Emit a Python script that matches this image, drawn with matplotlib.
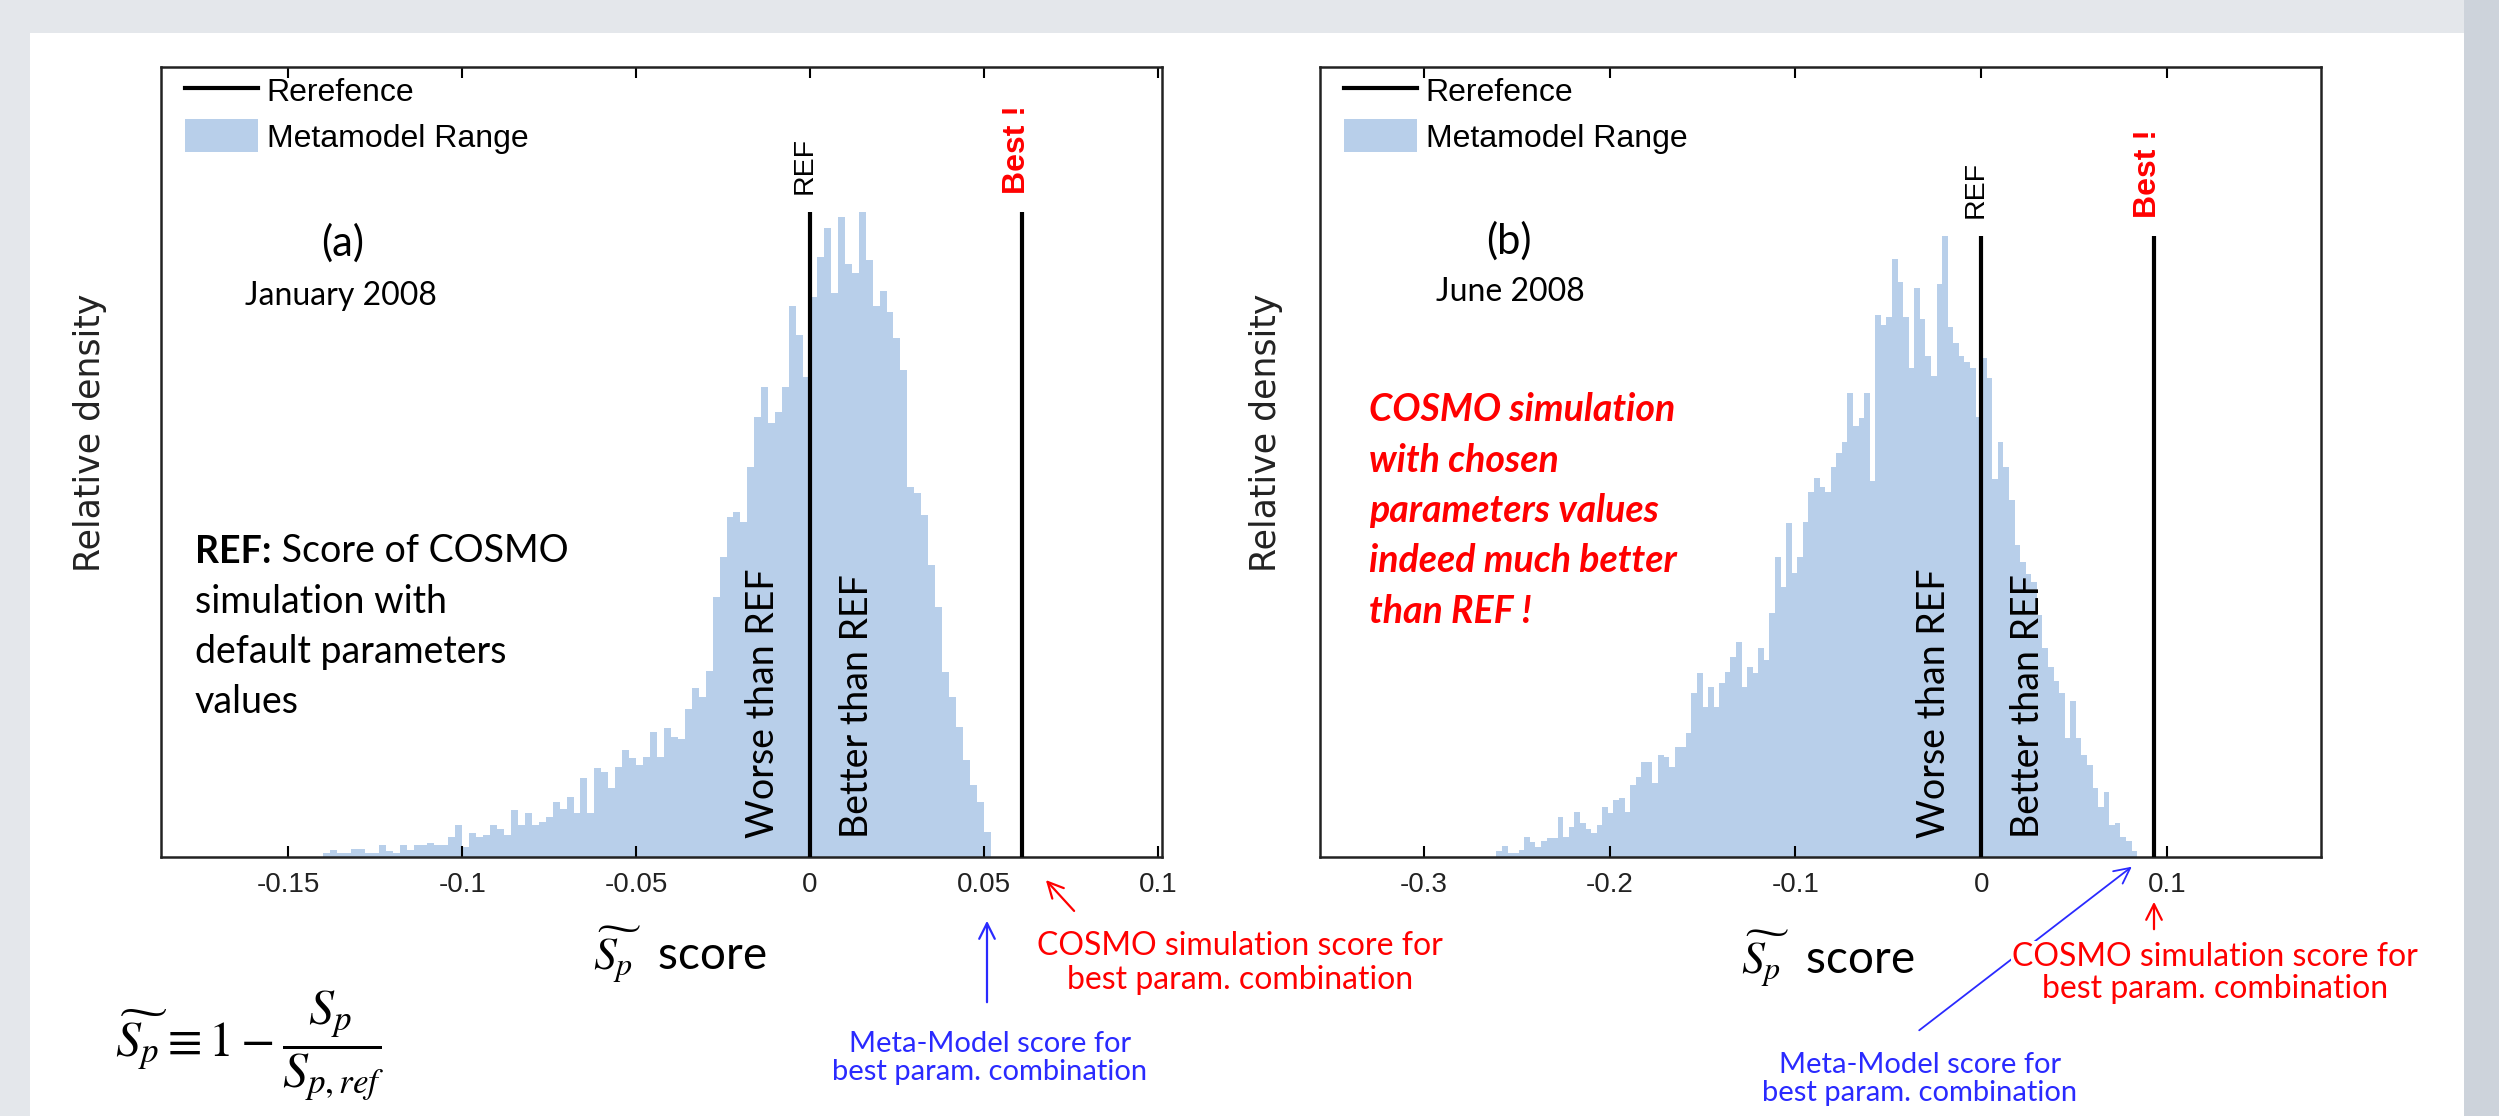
import numpy as np
import matplotlib
matplotlib.use("Agg")
import matplotlib.pyplot as plt
from matplotlib.patches import Rectangle, Patch
from matplotlib.lines import Line2D

plt.rcParams["mathtext.fontset"] = "stix"

W, H, DPI = 2499, 1116, 100

# ---------------- data ----------------
a_bin_start = -0.140
a_bin_width = 0.002
a_density = [0.6, 1.1, 0.6, 0.6, 1.2, 1.2, 0.6, 0.6, 1.9, 0.9,
             0.6, 1.9, 1.1, 1.9, 1.9, 2.2, 1.9, 1.9, 3.1, 5.0,
             1.6, 3.7, 3.1, 3.4, 5.0, 4.3, 3.4, 7.3, 5.0, 6.8,
             5.0, 5.4, 6.2, 8.5, 7.4, 9.3, 6.8, 12.2, 6.8, 13.8,
             13.2, 10.7, 14.0, 16.6, 15.3, 14.3, 15.5, 19.4, 15.5, 20.0,
             18.6, 18.3, 22.9, 26.2, 24.8, 28.8, 40.3, 46.5, 52.7, 53.5,
             51.9, 60.5, 68.2, 72.9, 67.3, 69.0, 72.9, 85.5, 81.0, 74.4,
             86.8, 93.0, 97.5, 87.5, 99.2, 92.0, 90.5, 100.0, 92.5, 85.5,
             87.8, 84.5, 80.5, 75.5, 57.4, 56.4, 53.0, 45.3, 38.8, 28.7,
             24.8, 20.2, 15.0, 11.2, 8.5, 3.9]

b_bin_start = -0.261
b_bin_width = 0.003
b_density = [1.0, 1.8, 0.6, 0.6, 1.1, 3.2, 2.4, 1.6, 2.6, 3.1,
             3.1, 6.4, 3.2, 4.8, 7.2, 5.5, 4.5, 3.9, 5.2, 8.1,
             7.1, 9.2, 9.5, 7.2, 11.6, 12.9, 15.3, 15.3, 11.9, 16.4,
             16.1, 14.5, 17.7, 17.7, 20.0, 26.4, 29.6, 24.2, 27.4, 24.2,
             28.0, 29.8, 32.2, 34.6, 27.4, 30.6, 29.6, 33.7, 31.7, 39.3,
             48.3, 43.5, 53.8, 45.7, 48.3, 53.9, 58.8, 61.0, 59.6, 58.8,
             62.8, 65.1, 66.8, 74.7, 69.4, 70.7, 74.7, 60.5, 87.3, 85.7,
             87.0, 96.3, 92.6, 87.0, 78.7, 91.6, 86.6, 80.7, 77.5, 92.3,
             100.0, 85.3, 82.8, 80.7, 79.7, 78.7, 70.9, 80.4, 77.1, 60.9,
             66.8, 62.8, 57.5, 50.2, 47.5, 45.6, 44.3, 39.0, 33.7, 30.6,
             28.3, 26.4, 19.2, 25.1, 19.2, 16.4, 14.8, 11.1, 8.1, 10.5,
             5.2, 5.5, 3.2, 2.6, 1.0]

ref_score = 0.0
a_best = 0.061
b_best = 0.093

a_xticks = [-0.15, -0.1, -0.05, 0, 0.05, 0.1]
a_xticklabels = ["-0.15", "-0.1", "-0.05", "0", "0.05", "0.1"]
b_xticks = [-0.3, -0.2, -0.1, 0, 0.1]
b_xticklabels = ["-0.3", "-0.2", "-0.1", "0", "0.1"]

legend_labels = ["Rerefence", "Metamodel Range"]
a_title, a_month = "(a)", "January 2008"
b_title, b_month = "(b)", "June 2008"
ref_note_lines = ["simulation with", "default parameters", "values"]
b_note_lines = ["COSMO simulation", "with chosen", "parameters values",
                "indeed much better", "than REF !"]
cosmo_note = "COSMO simulation score for\nbest param. combination"
meta_note = "Meta-Model score for\nbest param. combination"

# ---------------- style ----------------
HIST = "#b8cfea"
SANS = "Liberation Sans"
LATO = "Lato"
RED = "#ff0000"
BLUE = "#2a2aff"


def fx(px):
    return px / W


def fy(py):
    return 1 - py / H


fig = plt.figure(figsize=(W / DPI, H / DPI), dpi=DPI)
fig.patch.set_facecolor("#e4e7eb")
fig.add_artist(Rectangle((0, 0), 1, 1, transform=fig.transFigure,
                         facecolor="#e4e7eb", edgecolor="none", zorder=-20))
fig.add_artist(Rectangle((fx(2464), 0), 1 - fx(2464), 1, transform=fig.transFigure,
                         facecolor="#cdd3db", edgecolor="none", zorder=-19))
fig.add_artist(Rectangle((fx(30), 0), fx(2464) - fx(30), fy(33), transform=fig.transFigure,
                         facecolor="white", edgecolor="none", zorder=-18))

axA = fig.add_axes([fx(161), fy(857), fx(1162) - fx(161), fy(67) - fy(857)])
axB = fig.add_axes([fx(1320), fy(857), fx(2321) - fx(1320), fy(67) - fy(857)])


def panel(ax, start, width, dens, best, xlim, ytop, ticks, ticklabels):
    dens = np.asarray(dens, dtype=float)
    edges = start + width * np.arange(len(dens) + 1)
    ax.stairs(dens, edges, fill=True, color=HIST, linewidth=0, zorder=1)
    ymax = dens.max()
    ax.vlines([ref_score, best], 0, ymax, color="black", linewidth=3.0, zorder=3)
    ax.set_xlim(*xlim)
    ax.set_ylim(0, ytop)
    ax.set_yticks([])
    ax.set_xticks(ticks)
    ax.set_xticklabels(ticklabels, fontsize=20, family=SANS, color="#222222")
    ax.tick_params(axis="x", direction="in", top=True, length=8, width=1.5, pad=11)
    for s in ax.spines.values():
        s.set_linewidth(1.8)
        s.set_color("#222222")
    handles = [Line2D([], [], color="black", linewidth=3.0),
               Patch(facecolor=HIST, edgecolor="none")]
    ax.legend(handles, legend_labels, loc="upper left", frameon=False,
              bbox_to_anchor=(0.024, 0.991),
              prop={"family": SANS, "size": 23}, handlelength=2.28,
              handleheight=1.2, handletextpad=0.28, labelspacing=0.35,
              borderaxespad=0.0, borderpad=0.0)
    ax.annotate("REF", xy=(ref_score, ymax), xytext=(-4, 13), textcoords="offset points",
                rotation=90, ha="center", va="bottom", fontsize=20.5, family=SANS)
    ax.annotate("Best !", xy=(best, ymax), xytext=(-4, 13), textcoords="offset points",
                rotation=90, ha="center", va="bottom", fontsize=23, family=SANS,
                weight="bold", color=RED)
    ax.annotate("Worse than REF", xy=(ref_score, 0), xytext=(-34, 14),
                textcoords="offset points", rotation=90, ha="center", va="bottom",
                fontsize=27, family=LATO)
    ax.annotate("Better than REF", xy=(ref_score, 0), xytext=(34, 14),
                textcoords="offset points", rotation=90, ha="center", va="bottom",
                fontsize=27, family=LATO)
    ax.set_ylabel("Relative density", fontsize=25, family="DejaVu Sans",
                  color="#222222", va="center")
    ax.set_xlabel(r"$\widetilde{S_p}$  score", fontsize=33, family=LATO, va="center")


panel(axA, a_bin_start, a_bin_width, a_density, a_best, (-0.1866, 0.1012), 122.5,
      a_xticks, a_xticklabels)
panel(axB, b_bin_start, b_bin_width, b_density, b_best, (-0.356, 0.183), 127.2,
      b_xticks, b_xticklabels)

axA.yaxis.set_label_coords(-0.071, 0.537)
axB.yaxis.set_label_coords(-0.054, 0.537)
axA.xaxis.set_label_coords(0.518, -0.124)
axB.xaxis.set_label_coords(0.507, -0.128)

# panel titles
fig.text(fx(343), fy(243), a_title, fontsize=30, family=LATO, ha="center", va="center")
fig.text(fx(341), fy(296), a_month, fontsize=23, family=LATO, ha="center", va="center")
fig.text(fx(1509), fy(241), b_title, fontsize=30, family=LATO, ha="center", va="center")
fig.text(fx(1510), fy(292), b_month, fontsize=23, family=LATO, ha="center", va="center")

# REF note (panel a)
t1 = fig.text(fx(195), fy(563), "REF:", fontsize=27, family=LATO, weight="bold",
              va="baseline")
axA.annotate(" Score of COSMO", xy=(1, 0), xycoords=t1, va="bottom", ha="left",
             fontsize=27, family=LATO, annotation_clip=False)
for i, line in enumerate(ref_note_lines):
    fig.text(fx(195), fy(613 + 50 * i), line, fontsize=27, family=LATO, va="baseline")

# red note (panel b)
for i, line in enumerate(b_note_lines):
    fig.text(fx(1369), fy(421 + 50.5 * i), line, fontsize=27, family=LATO,
             weight="bold", style="italic", color=RED, va="baseline")

# formula
fig.text(fx(250), fy(1046),
         r"$\widetilde{S_p} \equiv 1 - \dfrac{S_p}{S_{p,ref}}$",
         fontsize=36, ha="center", va="center")

# annotations under panel (a)
arrow_kw = dict(xycoords="figure fraction", textcoords="figure fraction",
                annotation_clip=False)
axA.annotate("", xy=(fx(1044), fy(878)), xytext=(fx(1076), fy(913)),
             arrowprops=dict(arrowstyle="->", color=RED, lw=1.6, mutation_scale=28),
             **arrow_kw)
axA.annotate("", xy=(fx(987), fy(918)), xytext=(fx(987), fy(1005)),
             arrowprops=dict(arrowstyle="->", color=BLUE, lw=1.6, mutation_scale=28),
             **arrow_kw)
fig.text(fx(1240), fy(963), cosmo_note, fontsize=23, family=LATO, color=RED,
         ha="center", va="center", linespacing=1.15)
fig.text(fx(990), fy(1058), meta_note, fontsize=21, family=LATO, color=BLUE,
         ha="center", va="center", linespacing=1.1)

# annotations under panel (b)
axB.annotate("", xy=(fx(2134), fy(865)), xytext=(fx(1917), fy(1032)),
             arrowprops=dict(arrowstyle="->", color=BLUE, lw=1.3, mutation_scale=28),
             **arrow_kw)
axB.annotate("", xy=(fx(2154), fy(899)), xytext=(fx(2154), fy(932)),
             arrowprops=dict(arrowstyle="->", color=RED, lw=1.6, mutation_scale=28),
             **arrow_kw)
fig.text(fx(2215), fy(973), cosmo_note, fontsize=23, family=LATO, color=RED,
         ha="center", va="center", linespacing=1.1,
         bbox=dict(facecolor="white", edgecolor="none", pad=1))
fig.text(fx(1920), fy(1079), meta_note, fontsize=21, family=LATO, color=BLUE,
         ha="center", va="center", linespacing=1.1)

fig.savefig("out.png", dpi=DPI, facecolor=fig.get_facecolor())
